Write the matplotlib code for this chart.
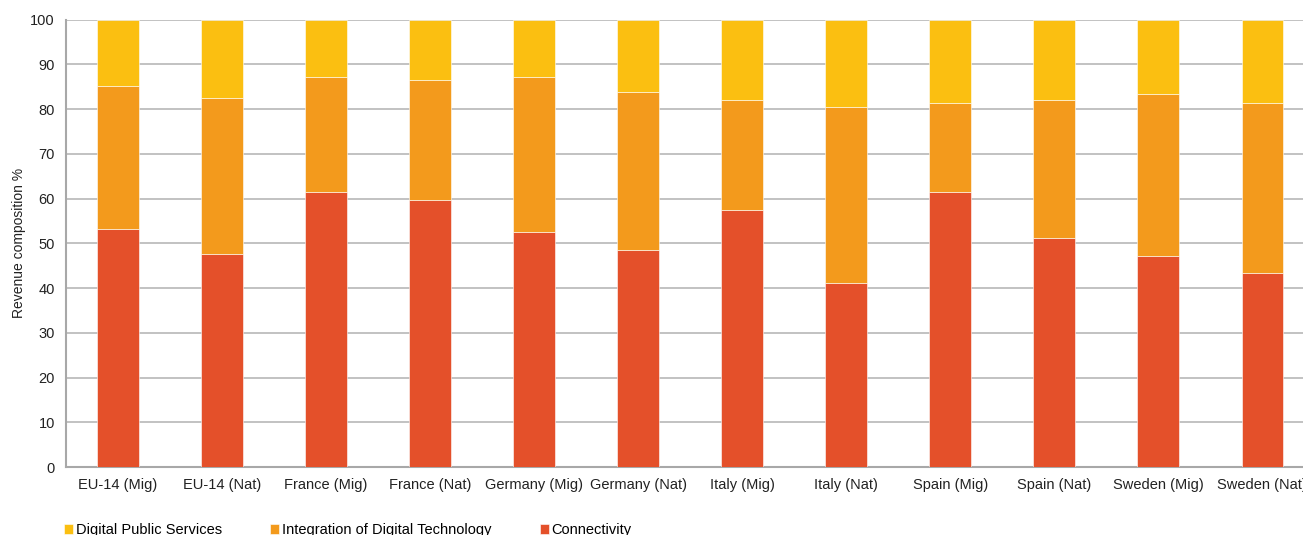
import matplotlib.pyplot as plt
import numpy as np

plt.rcParams['font.family'] = ['Liberation Sans', 'DejaVu Sans']

groups = ['EU-14 (Mig)', 'EU-14 (Nat)', 'France (Mig)', 'France (Nat)',
          'Germany (Mig)', 'Germany (Nat)', 'Italy (Mig)', 'Italy (Nat)',
          'Spain (Mig)', 'Spain (Nat)', 'Sweden (Mig)', 'Sweden (Nat)']

# revenue shares, %
connectivity = [53.2, 47.6, 61.5, 59.7, 52.5, 48.6, 57.4, 41.1, 61.5, 51.2, 47.2, 43.4]
integration = [31.9, 34.9, 25.6, 26.7, 34.6, 35.2, 24.7, 39.3, 19.9, 30.9, 36.1, 38.0]
public_services = [14.9, 17.5, 12.9, 13.6, 12.9, 16.2, 17.9, 19.6, 18.6, 17.9, 16.7, 18.6]

c_conn = '#E4502A'
c_integ = '#F39A1C'
c_dps = '#FBBF11'

fig = plt.figure(figsize=(13.03, 5.35), dpi=100)
ax = fig.add_axes([0.0507, 0.127, 0.958, 0.8364])

x = np.arange(len(groups))
w = 0.4
conn = np.array(connectivity)
integ = np.array(integration)
dps = np.array(public_services)

edge = dict(edgecolor='#FFFFFF', linewidth=0.4)
b1 = ax.bar(x, conn, w, color=c_conn, label='Connectivity', zorder=3, **edge)
b2 = ax.bar(x, integ, w, bottom=conn, color=c_integ,
            label='Integration of Digital Technology', zorder=3, **edge)
b3 = ax.bar(x, dps, w, bottom=conn + integ, color=c_dps,
            label='Digital Public Services', zorder=3, **edge)

ax.set_xlim(-0.5, len(groups) - 0.5)
ax.set_ylim(0, 100)
ax.set_yticks(range(0, 101, 10))
ax.set_xticks(x)
ax.set_xticklabels(groups)
ax.tick_params(axis='both', length=0, labelsize=10.5, colors='#222222')
ax.tick_params(axis='y', pad=8)
ax.tick_params(axis='x', pad=8)
ax.set_ylabel('Revenue composition %', fontsize=10, color='#222222', labelpad=3)

ax.yaxis.grid(True, color='#BDBDBD', linewidth=1.3, zorder=0)
ax.set_axisbelow(True)
for s in ['top', 'right']:
    ax.spines[s].set_visible(False)
for s in ['left', 'bottom']:
    ax.spines[s].set_color('#A8A8A8')
    ax.spines[s].set_linewidth(1.5)

fig.legend(handles=[b3, b2, b1], loc='lower left', bbox_to_anchor=(0.039, -0.028),
           ncol=3, frameon=False, fontsize=10.5, handlelength=0.6,
           handleheight=0.7, handletextpad=0.2, columnspacing=3.33)

fig.savefig('out.png', dpi=100)
